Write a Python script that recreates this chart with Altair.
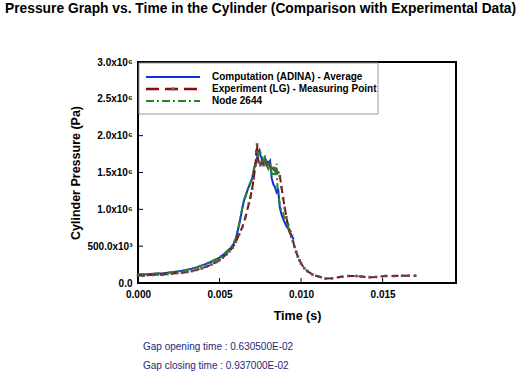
import altair as alt
import pandas as pd

# ---------------- data ----------------
series_names = [
    "Computation (ADINA) - Average",
    "Experiment (LG) - Measuring Point",
    "Node 2644",
]

comp_t = [0.0000, 0.0005, 0.0010, 0.0015, 0.0020, 0.0025, 0.0030, 0.0035, 0.0040,
          0.0045, 0.0050, 0.0053, 0.0056, 0.0058, 0.0060, 0.0062, 0.0063, 0.0064,
          0.0065, 0.0066, 0.0067, 0.0068, 0.0069, 0.0070, 0.0071, 0.0072, 0.0073,
          0.0074, 0.00745, 0.0075, 0.0076, 0.0077, 0.0078, 0.0079, 0.0080, 0.0081,
          0.0082, 0.0083, 0.0084, 0.0085, 0.0086, 0.0087, 0.0088, 0.0089, 0.0090,
          0.0091, 0.0092, 0.0093, 0.0094, 0.00955]
comp_p = [115000, 118000, 124000, 132000, 143000, 158000, 178000, 205000, 242000,
          288000, 345000, 395000, 455000, 505000, 600000, 790000, 900000, 1020000,
          1120000, 1180000, 1250000, 1310000, 1360000, 1420000, 1530000, 1620000, 1700000,
          1780000, 1800000, 1740000, 1680000, 1640000, 1690000, 1650000, 1630000, 1660000,
          1420000, 1340000, 1300000, 1230000, 1260000, 1020000, 930000, 870000, 820000,
          770000, 740000, 700000, 650000, 590000]

node_t = [0.0000, 0.0005, 0.0010, 0.0015, 0.0020, 0.0025, 0.0030, 0.0035, 0.0040,
          0.0045, 0.0050, 0.0053, 0.0056, 0.0058, 0.0060, 0.0062, 0.0063, 0.0064,
          0.0065, 0.0066, 0.0067, 0.0068, 0.0069, 0.0070, 0.0071, 0.0072, 0.0073,
          0.0074, 0.0075, 0.0076, 0.0077, 0.0078, 0.0079, 0.0080, 0.0081, 0.0082,
          0.0083, 0.00835, 0.0084, 0.0085, 0.00855, 0.0086, 0.0087, 0.0088, 0.0089,
          0.0090, 0.0091, 0.0092, 0.0093, 0.0094, 0.0095]
node_p = [118000, 120000, 126000, 134000, 145000, 160000, 181000, 208000, 246000,
          292000, 350000, 400000, 462000, 512000, 610000, 800000, 910000, 1030000,
          1130000, 1190000, 1260000, 1320000, 1370000, 1430000, 1540000, 1630000, 1710000,
          1760000, 1780000, 1720000, 1650000, 1730000, 1600000, 1550000, 1620000, 1480000,
          1450000, 1580000, 1450000, 1620000, 1300000, 1200000, 1050000, 980000, 950000,
          850000, 830000, 760000, 720000, 690000, 640000]

exp_t = [0.0000, 0.0003, 0.0006, 0.0009, 0.0012, 0.0015, 0.0018, 0.0021, 0.0024,
         0.0027, 0.0030, 0.0033, 0.0036, 0.0039, 0.0042, 0.0045, 0.0048, 0.0050,
         0.0052, 0.0054, 0.0056, 0.0058, 0.0060, 0.0062, 0.0064, 0.0066, 0.0068,
         0.0069, 0.0070, 0.0071, 0.0072, 0.00725, 0.0073, 0.00735, 0.0074, 0.0075,
         0.0076, 0.0077, 0.0078, 0.0079, 0.0080, 0.0081, 0.0082, 0.0083, 0.0084,
         0.0085, 0.0086, 0.0087, 0.0088, 0.0089, 0.0090, 0.0091, 0.0092, 0.0093,
         0.0094, 0.0095, 0.0096, 0.0097, 0.0098, 0.0099, 0.0100, 0.0102, 0.0104,
         0.0107, 0.0111, 0.0115, 0.0119, 0.0125, 0.0129, 0.0134, 0.0137, 0.0142,
         0.0146, 0.0152, 0.0157, 0.0162, 0.0166, 0.0170]
exp_p = [105000, 100000, 108000, 110000, 115000, 112000, 122000, 128000, 135000,
         140000, 150000, 162000, 178000, 198000, 222000, 250000, 285000, 310000,
         345000, 385000, 430000, 480000, 560000, 660000, 760000, 900000, 1080000,
         1170000, 1280000, 1420000, 1600000, 1780000, 1880000, 1720000, 1640000, 1600000,
         1650000, 1600000, 1640000, 1600000, 1620000, 1580000, 1560000, 1550000, 1530000,
         1520000, 1500000, 1450000, 1300000, 1150000, 1020000, 890000, 790000, 700000,
         630000, 570000, 490000, 420000, 360000, 310000, 265000, 200000, 160000,
         115000, 85000, 60000, 64000, 85000, 95000, 95000, 88000, 78000,
         82000, 95000, 95000, 99000, 99000, 99000]

x_ticks = [0.000, 0.005, 0.010, 0.015]
y_ticks = [0, 500000, 1000000, 1500000, 2000000, 2500000, 3000000]

title_text = "Pressure Graph vs. Time in the Cylinder (Comparison with Experimental Data)"
note_lines = ["Gap opening time : 0.630500E-02", "Gap closing time : 0.937000E-02"]

# ---------------- styling ----------------
W, H = 318, 221
FONT = "Liberation Sans"
BLUE = "#1030e0"
RED = "#8b0a0a"
GREEN = "#1f8a1f"
NAVY = "#1c2a7a"

df_comp = pd.DataFrame({"t": comp_t, "p": comp_p})
df_node = pd.DataFrame({"t": node_t, "p": node_p})
df_exp = pd.DataFrame({"t": exp_t, "p": exp_p})
df_xt = pd.DataFrame({"t": x_ticks})
df_yt = pd.DataFrame({"p": y_ticks})
one = pd.DataFrame({"a": [0]})

xscale = alt.Scale(domain=[0, 0.0195], nice=False, zero=False)
yscale = alt.Scale(domain=[0, 3000000], nice=False)

x_axis = alt.Axis(values=x_ticks, format=".3f", title="Time (s)", labelFlush=False,
                  labelPadding=6, titleX=W / 2, titleY=32, titleBaseline="middle")
y_axis = alt.Axis(values=y_ticks, title="Cylinder Pressure (Pa)", labelFlush=False,
                  labelExpr="datum.value == 0 ? '0.0' : datum.value == 500000 ? '500.0x10³' : format(datum.value / 1000000, '.1f') + 'x10⁶'",
                  labelPadding=6, titleX=-63, titleY=H / 2, titleBaseline="middle",
                  titleAlign="center")

X = alt.X("t:Q", scale=xscale, axis=x_axis)
Y = alt.Y("p:Q", scale=yscale, axis=y_axis)

comp = alt.Chart(df_comp).mark_line(color=BLUE, strokeWidth=2).encode(x=X, y=Y)
node = alt.Chart(df_node).mark_line(color=GREEN, strokeWidth=2,
                                    strokeDash=[7, 3, 2, 3]).encode(x=X, y=Y)
exp_line = alt.Chart(df_exp).mark_line(color=RED, strokeWidth=2,
                                       strokeDash=[7, 4]).encode(x=X, y=Y)
exp_pts = alt.Chart(df_exp).mark_point(shape="square", filled=True, color="#555555",
                                       size=7, opacity=1).encode(x=X, y=Y)

# inward ticks
xt = alt.Chart(df_xt).mark_rule(color="black", strokeWidth=1).encode(
    x=X, y=alt.value(H), y2=alt.value(H - 5))
yt = alt.Chart(df_yt).mark_rule(color="black", strokeWidth=1).encode(
    y=Y, x=alt.value(0), x2=alt.value(5))

# legend box
lg_box = alt.Chart(one).mark_rect(fill="white", stroke="#9a9a9a", strokeWidth=1).encode(
    x=alt.value(1), x2=alt.value(240), y=alt.value(1), y2=alt.value(52))
lg_rows = [15, 27, 39]
lg_layers = [lg_box]
lg_layers.append(alt.Chart(one).mark_rule(color=BLUE, strokeWidth=2).encode(
    x=alt.value(8), x2=alt.value(62), y=alt.value(lg_rows[0])))
lg_layers.append(alt.Chart(one).mark_rule(color=RED, strokeWidth=2.5, strokeDash=[13, 6]).encode(
    x=alt.value(8), x2=alt.value(62), y=alt.value(lg_rows[1])))
lg_layers.append(alt.Chart(one).mark_point(shape="square", filled=True, color="#666666",
                                           size=9, opacity=1).encode(
    x=alt.value(35), y=alt.value(lg_rows[1])))
lg_layers.append(alt.Chart(one).mark_rule(color=GREEN, strokeWidth=2, strokeDash=[8, 3, 2, 3]).encode(
    x=alt.value(8), x2=alt.value(62), y=alt.value(lg_rows[2])))
for name, yy in zip(series_names, lg_rows):
    lg_layers.append(alt.Chart(one).mark_text(align="left", baseline="middle", font=FONT,
                                              fontSize=10, fontWeight="bold", color="black").encode(
        x=alt.value(74), y=alt.value(yy), text=alt.value(name)))

notes = []
for line, yy in zip(note_lines, [285, 304]):
    notes.append(alt.Chart(one).mark_text(align="left", baseline="middle", font=FONT,
                                          fontSize=10, color=NAVY).encode(
        x=alt.value(5), y=alt.value(yy), text=alt.value(line)))

chart = alt.layer(
    comp, node, exp_line, exp_pts, xt, yt, *lg_layers, *notes
).properties(
    width=W, height=H,
    autosize=alt.AutoSizeParams(type="none"),
    padding={"left": 138, "top": 62, "right": 65, "bottom": 94},
    title=alt.TitleParams(title_text, anchor="start", frame="group", dx=-133, offset=41,
                          font=FONT, fontSize=13.8, fontWeight="bold", color="black"),
    background="white",
).configure_view(
    stroke="black", strokeWidth=2
).configure_axis(
    domain=False, ticks=False, tickSize=0, grid=False,
    labelFont=FONT, labelFontSize=10, labelFontWeight="bold", labelColor="black",
    titleFont=FONT, titleFontSize=12.5, titleFontWeight="bold", titleColor="black",
)

chart.save("out.html", embed_options={"renderer": "svg", "actions": False})
